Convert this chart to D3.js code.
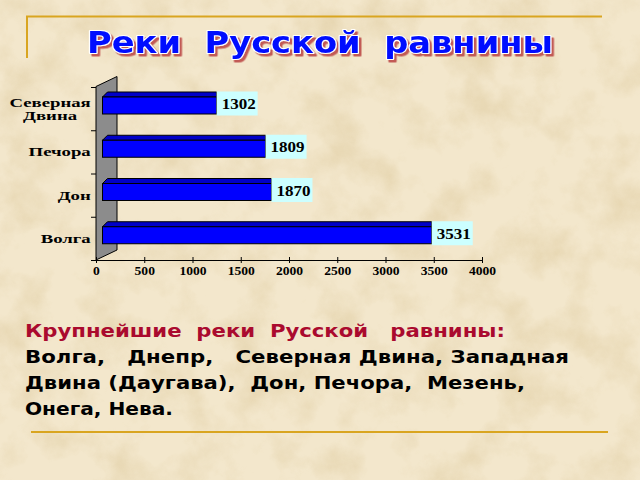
<!DOCTYPE html>
<html><head><meta charset="utf-8">
<script src="https://cdn.jsdelivr.net/npm/d3@7"></script>
<style>html,body{margin:0;padding:0;background:#efe1c2;}svg{display:block;}</style>
</head><body>
<svg id="c" width="640" height="480"></svg>
<script>
// ---- data ----
const categories = ["Северная\nДвина", "Печора", "Дон", "Волга"];
const lengths = [1302, 1809, 1870, 3531];
const xTicks = [0, 500, 1000, 1500, 2000, 2500, 3000, 3500, 4000];
const title = "Реки  Русской  равнины";
const captionHead = "Крупнейшие  реки  Русской   равнины:";
const captionLines = ["Волга,   Днепр,   Северная Двина, Западная", "Двина (Даугава),  Дон, Печора,  Мезень,", "Онега, Нева."];

const keepSpaces = s => s.replace(/ {2,}/g, m => " " + "\u00a0".repeat(m.length - 1));

const svg = d3.select("#c");
const defs = svg.append("defs");
const f = defs.append("filter").attr("id", "paper").attr("x", 0).attr("y", 0).attr("width", 1).attr("height", 1);
f.append("feTurbulence").attr("type", "fractalNoise").attr("baseFrequency", "0.022").attr("numOctaves", 5).attr("seed", 7).attr("result", "n");
f.append("feColorMatrix").attr("in", "n").attr("type", "matrix")
  .attr("values", "0 0 0 0 0.72  0 0 0 0 0.58  0 0 0 0 0.33  2.2 0 0 0 -0.95");
const sh = defs.append("filter").attr("id", "tshadow").attr("x", "-5%").attr("y", "-20%").attr("width", "115%").attr("height", "150%");
sh.append("feDropShadow").attr("dx", 2.5).attr("dy", 2.5).attr("stdDeviation", 0.3).attr("flood-color", "#c25a55").attr("flood-opacity", 1);

svg.append("rect").attr("width", 640).attr("height", 480).attr("fill", "#f3e7cc");
svg.append("rect").attr("width", 640).attr("height", 480).attr("filter", "url(#paper)").attr("opacity", 0.55);

// decorative gold lines
const gold = "#d9a520";
svg.append("path").attr("d", "M27,58V16.5H602").attr("fill", "none").attr("stroke", gold).attr("stroke-width", 2);
svg.append("line").attr("x1", 31).attr("x2", 608).attr("y1", 432).attr("y2", 432).attr("stroke", gold).attr("stroke-width", 2);

// title
svg.append("text").attr("x", 87).attr("y", 53)
  .style("font-family", "'DejaVu Sans', Verdana, sans-serif").style("font-weight", "bold").style("font-size", "31px")
  .attr("fill", "#0010ff").attr("stroke", "#ffffff").attr("stroke-width", 2.2)
  .attr("paint-order", "stroke fill").attr("stroke-linejoin", "round").attr("filter", "url(#tshadow)")
  .attr("textLength", 466).attr("lengthAdjust", "spacingAndGlyphs").text(keepSpaces(title));

// ---- chart ----
const x = d3.scaleLinear().domain([0, 4000]).range([96, 482]);
const y = d3.scaleBand().domain(categories).range([87.5, 260.5]);
const depth = {dx: 21, dy: -10};
const axisY = 260;

// wall
const wallTop = y.range()[0] - 1;
svg.append("path")
  .attr("d", `M${x(0)},${axisY}L${x(0)},${wallTop}L${x(0) + depth.dx},${wallTop + depth.dy}L${x(0) + depth.dx},${axisY + depth.dy}Z`)
  .attr("fill", "#8c8c8c").attr("stroke", "#000").attr("stroke-width", 1);

// y ticks
svg.append("g").selectAll("line").data(categories.map(c => y(c)).concat([y.range()[1]]))
  .join("line").attr("x1", x(0) - 5).attr("x2", x(0)).attr("y1", d => d).attr("y2", d => d)
  .attr("stroke", "#000").attr("stroke-width", 1);

// x axis
const xa = svg.append("g").attr("transform", `translate(0,${axisY})`)
  .call(d3.axisBottom(x).tickValues(xTicks).tickFormat(d3.format("d")).tickSize(3).tickSizeOuter(0).tickPadding(4));
xa.select(".domain").attr("stroke", "#000");
xa.selectAll(".tick line").attr("y1", -3).attr("y2", 3).attr("stroke", "#000");
xa.selectAll(".tick text").attr("fill", "#000").style("font-family", "'Liberation Serif', 'Times New Roman', serif")
  .style("font-weight", "bold").style("font-size", "11.5px").attr("dy", "0.72em")
  .each(function () { const w = this.getComputedTextLength(); d3.select(this).attr("textLength", w * 1.18).attr("lengthAdjust", "spacingAndGlyphs"); });

// bars
const frontOff = 9.5, frontH = 17, topH = 5, topDx = 5;
const barLeft = x(0) + 6.5;
const barRight = v => x(v) - 5;
const bars = svg.append("g").selectAll("g").data(categories.map((c, i) => ({c, v: lengths[i]}))).join("g");
bars.append("path")
  .attr("d", d => { const t = y(d.c) + frontOff; const r = barRight(d.v);
    return `M${barLeft},${t}L${barLeft + topDx},${t - topH}L${r},${t - topH}L${r},${t}Z`; })
  .attr("fill", "#0000c8").attr("stroke", "#000").attr("stroke-width", 1);
bars.append("rect").attr("x", barLeft).attr("y", d => y(d.c) + frontOff)
  .attr("width", d => barRight(d.v) - barLeft).attr("height", frontH)
  .attr("fill", "#0000ff").attr("stroke", "#000").attr("stroke-width", 1);
// value labels
bars.append("rect").attr("x", d => barRight(d.v)).attr("y", d => y(d.c) + frontOff - 5.5)
  .attr("width", 41).attr("height", frontH + 7).attr("fill", "#ccffff");
bars.append("text").attr("x", d => barRight(d.v) + 5).attr("y", d => y(d.c) + frontOff + 12)
  .style("font-family", "'Liberation Serif', 'Times New Roman', serif").style("font-weight", "bold").style("font-size", "15px")
  .attr("fill", "#000").attr("textLength", 34).attr("lengthAdjust", "spacingAndGlyphs")
  .text(d => d3.format("d")(d.v));

// category labels
const cg = svg.append("g").style("font-family", "'Liberation Serif', 'Times New Roman', serif").style("font-weight", "bold").style("font-size", "12.5px");
categories.forEach(c => {
  const lines = c.split("\n");
  const center = y(c) + y.bandwidth() / 2;
  const g = cg.append("g").attr("transform", `translate(90.7,0) scale(1.5,1)`);
  const t = g.append("text").attr("fill", "#000");
  const spans = lines.map((l, i) => t.append("tspan").attr("y", center + 4 - (lines.length - 1) * 6.3 + i * 12.7).text(l));
  if (lines.length === 1) { t.attr("text-anchor", "end"); spans[0].attr("x", 0); }
  else {
    const maxW = d3.max(spans, s => s.node().getComputedTextLength());
    t.attr("text-anchor", "middle"); spans.forEach(s => s.attr("x", -maxW / 2));
  }
});

// caption
const capg = svg.append("g").style("font-family", "'DejaVu Sans', Verdana, sans-serif").style("font-weight", "bold").style("font-size", "18px");
capg.append("text").attr("x", 25).attr("y", 337).attr("fill", "#aa0a2e").attr("textLength", 480).attr("lengthAdjust", "spacingAndGlyphs").text(keepSpaces(captionHead));
const capW = [544, 500, 148];
captionLines.forEach((l, i) => {
  capg.append("text").attr("x", 25).attr("y", 363 + i * 26).attr("fill", "#000").attr("textLength", capW[i]).attr("lengthAdjust", "spacingAndGlyphs").text(keepSpaces(l));
});
</script>
</body></html>
